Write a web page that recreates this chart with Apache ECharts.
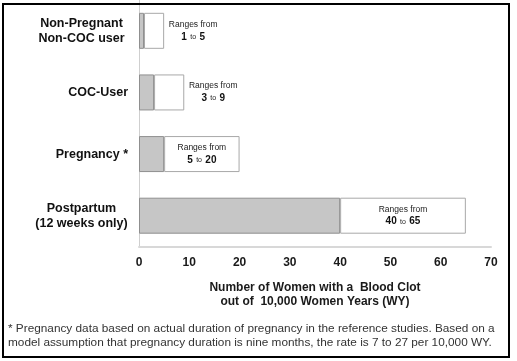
<!DOCTYPE html>
<html>
<head>
<meta charset="utf-8">
<script src="https://cdn.jsdelivr.net/npm/echarts@6/dist/echarts.min.js"></script>
<style>html,body{margin:0;padding:0;background:#fff;}#c{width:517px;height:361px;}</style>
</head>
<body>
<div id="c"></div>
<script>
var categories = ['Non-Pregnant\nNon-COC user', 'COC-User', 'Pregnancy *', 'Postpartum\n(12 weeks only)'];
var lowValues = [1, 3, 5, 40];
var highValues = [5, 9, 20, 65];
var labelInside = [false, false, true, true];
var xTicks = [0, 10, 20, 30, 40, 50, 60, 70];
var axisTitle = 'Number of Women with a  Blood Clot\nout of  10,000 Women Years (WY)';
var footnote1 = '* Pregnancy data based on actual duration of pregnancy in the reference studies. Based on a';
var footnote2 = 'model assumption that pregnancy duration is nine months, the rate is 7 to 27 per 10,000 WY.';

var FONT = '"Liberation Sans", Arial, sans-serif';
var chart = echarts.init(document.getElementById('c'), null, {renderer: 'canvas'});

var upperData = highValues.map(function (h, i) {
  var inside = labelInside[i];
  return {
    value: h - lowValues[i],
    label: {
      show: true,
      position: inside ? 'inside' : 'right',
      distance: 0,
      align: 'center',
      offset: inside ? [0, 0] : [29, 0],
      formatter: '{r|Ranges from}\n{b|' + lowValues[i] + '} {t|to} {b|' + h + '}',
      rich: {
        r: {fontSize: 8.5, color: '#222', fontFamily: FONT, lineHeight: 12},
        b: {fontSize: 10, fontWeight: 'bold', color: '#111', fontFamily: FONT, lineHeight: 13},
        t: {fontSize: 7, color: '#222', fontFamily: FONT, lineHeight: 13}
      }
    }
  };
});

function catLabel(v) {
  if (v.indexOf('\n') >= 0) {
    return v.split('\n').map(function (s) { return '{c|' + s + '}'; }).join('\n');
  }
  return v;
}

chart.setOption({
  animation: false,
  backgroundColor: '#fff',
  grid: {left: 139, right: 26, top: -1.5, height: 248, containLabel: false},
  xAxis: {
    type: 'value', min: 0, max: 70, interval: 10,
    axisLine: {show: true, lineStyle: {color: '#d8d8d8', width: 2}},
    axisTick: {show: false},
    splitLine: {show: false},
    axisLabel: {
      margin: 10, fontSize: 12, fontWeight: 'bold', color: '#1a1a1a', fontFamily: FONT,
      formatter: function (v) { return xTicks.indexOf(v) >= 0 ? String(v) : ''; }
    },
    name: axisTitle,
    nameLocation: 'middle',
    nameGap: 34,
    nameTextStyle: {fontSize: 12, fontWeight: 'bold', color: '#1a1a1a', fontFamily: FONT, lineHeight: 14, verticalAlign: 'top'}
  },
  yAxis: {
    type: 'category', data: categories, inverse: true,
    axisLine: {show: true, lineStyle: {color: '#cfcfcf', width: 1}},
    axisTick: {show: false},
    axisLabel: {
      margin: 11, fontSize: 12.5, fontWeight: 'bold', color: '#111', fontFamily: FONT, lineHeight: 15,
      formatter: catLabel,
      rich: {c: {fontSize: 12.5, fontWeight: 'bold', color: '#111', fontFamily: FONT, width: 93, align: 'center', lineHeight: 15}}
    }
  },
  series: [
    {
      type: 'bar', stack: 'r', data: lowValues, barWidth: 36,
      itemStyle: {color: '#c6c6c6', borderColor: '#8f8f8f', borderWidth: 1}
    },
    {
      type: 'bar', stack: 'r', data: upperData, barWidth: 36,
      itemStyle: {color: '#ffffff', borderColor: '#a8a8a8', borderWidth: 1}
    }
  ],
  graphic: [
    {type: 'rect', shape: {x: 3, y: 4, width: 506, height: 353},
     style: {fill: 'none', stroke: '#000', lineWidth: 2}, z: 100},
    {type: 'text', left: 8, top: 322, style: {text: footnote1 + '\n' + footnote2, font: '11.8px ' + FONT, fill: '#333', lineHeight: 13.5}}
  ]
});
</script>
</body>
</html>
